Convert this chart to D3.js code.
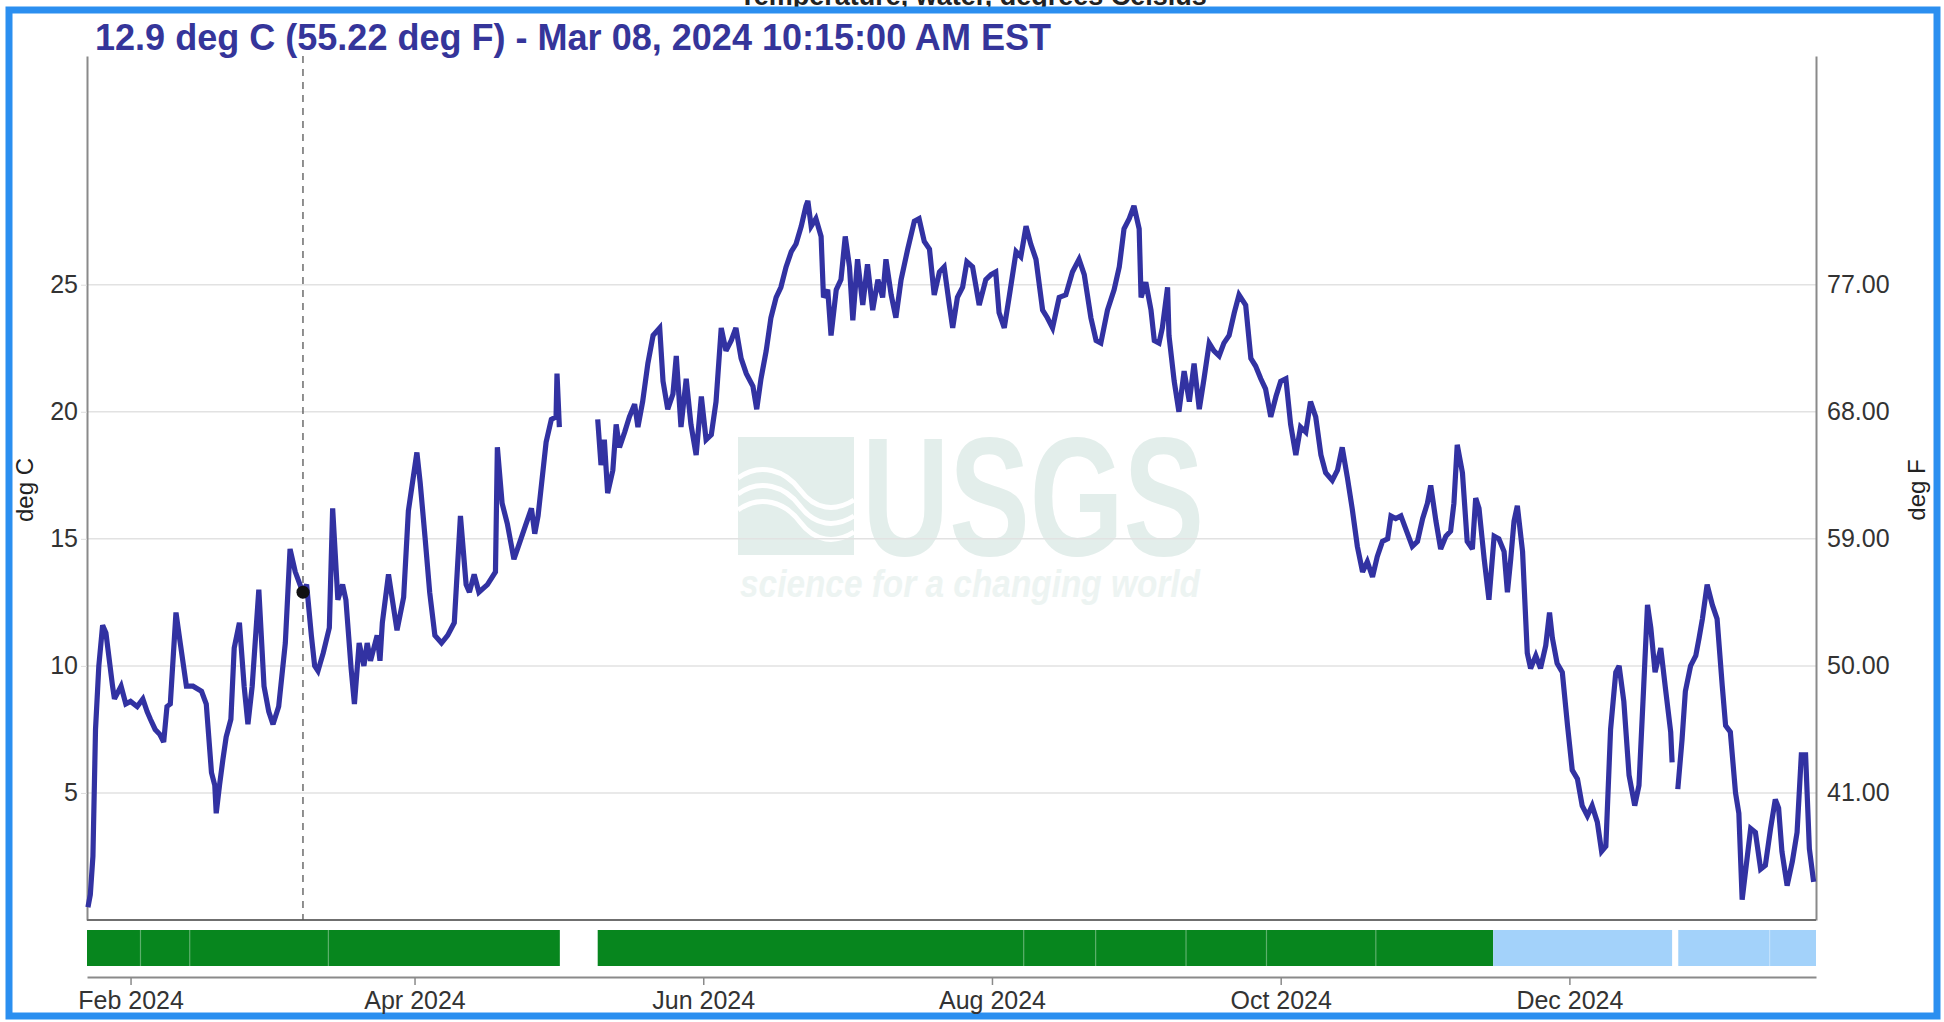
<!DOCTYPE html>
<html>
<head>
<meta charset="utf-8">
<script src="https://cdn.jsdelivr.net/npm/d3@7"></script>
<style>
  body { margin: 0; background: #fff; }
  svg { display: block; }
  text { font-family: "Liberation Sans", Arial, sans-serif; }
</style>
</head>
<body>
<svg width="1944" height="1022"></svg>
<script>
// day numbers are days of 2024 (Jan 1 = 1, values past 366 run into 2025)
const chartName = 'Temperature, water, degrees Celsius';
const title = '12.9 deg C (55.22 deg F) - Mar 08, 2024 10:15:00 AM EST';
const cursorPoint = [68.43, 12.9];
const xDomainDays = [22.8, 388.1];
const xTickDates = ['2024-02-01', '2024-04-01', '2024-06-01', '2024-08-01', '2024-10-01', '2024-12-01'];
const yTicksC = [5, 10, 15, 20, 25];
const yTicksF = [41, 50, 59, 68, 77];

// Jan 23 - May 1 2024
const springSeries = [
  [23.0, 0.5], [23.5, 1.0], [24.05, 2.5], [24.6, 7.5], [25.3, 10.0], [26.1, 11.6], [26.8, 11.3],
  [28.2, 9.2], [28.6, 8.7], [30.0, 9.2], [31.0, 8.5], [32.0, 8.6], [33.4, 8.4], [34.6, 8.7],
  [35.5, 8.2], [36.2, 7.9], [37.2, 7.5], [38.2, 7.3], [39.0, 7.0], [39.7, 8.4], [40.4, 8.5],
  [41.6, 12.1], [42.5, 10.9], [43.8, 9.2], [45.2, 9.2], [47.0, 9.0], [48.0, 8.5], [49.1, 5.8],
  [49.8, 5.3], [50.1, 4.2], [50.8, 5.3], [51.5, 6.3], [52.2, 7.2], [53.2, 7.9], [53.9, 10.7],
  [55.0, 11.7], [56.0, 9.2], [56.8, 7.7], [57.7, 9.2], [59.1, 13.0], [60.2, 9.2], [61.2, 8.2],
  [62.1, 7.7], [63.3, 8.4], [64.7, 10.9], [65.7, 14.6], [66.8, 13.7], [67.8, 13.2], [68.43, 12.9],
  [69.2, 13.2], [70.2, 11.2], [70.9, 10.0], [71.6, 9.8], [72.7, 10.5], [74.0, 11.5], [74.7, 16.2],
  [75.8, 12.6], [76.8, 13.2], [77.5, 12.6], [78.6, 9.9], [79.3, 8.5], [80.3, 10.9], [81.3, 10.0],
  [82.0, 10.9], [82.7, 10.2], [84.1, 11.2], [84.7, 10.2], [85.2, 11.7], [86.5, 13.6], [88.3, 11.4],
  [89.7, 12.7], [90.7, 16.1], [92.5, 18.4], [93.2, 17.2], [94.2, 15.1], [95.2, 12.9], [96.3, 11.2],
  [97.7, 10.9], [99.0, 11.2], [100.4, 11.7], [101.7, 15.9], [102.9, 13.2], [103.6, 12.9],
  [104.6, 13.6], [105.6, 12.9], [107.4, 13.2], [109.1, 13.7], [109.5, 18.6], [110.5, 16.4],
  [111.6, 15.6], [113.0, 14.2], [114.3, 14.9], [115.4, 15.5], [116.7, 16.2], [117.4, 15.2],
  [118.1, 15.9], [118.8, 17.1], [119.8, 18.8], [120.9, 19.7], [121.9, 19.8], [122.1, 21.5], [122.6, 19.4]
];

// May 10 - Dec 22 2024
const summerFallSeries = [
  [130.7, 19.7], [131.4, 17.9], [132.1, 18.9], [132.8, 16.8], [133.9, 17.7], [134.6, 19.5],
  [135.3, 18.6], [136.4, 19.2], [137.4, 19.8], [138.5, 20.3], [139.2, 19.4], [140.2, 20.4],
  [141.3, 21.9], [142.4, 23.0], [143.8, 23.3], [144.5, 21.2], [145.5, 20.1], [146.6, 20.7],
  [147.3, 22.2], [148.3, 19.4], [149.4, 21.3], [150.4, 19.5], [151.5, 18.3], [152.6, 20.6],
  [153.6, 18.9], [154.7, 19.1], [155.7, 20.4], [156.8, 23.3], [157.8, 22.4], [158.9, 22.8],
  [159.9, 23.3], [161.0, 22.1], [162.1, 21.5], [163.5, 21.0], [164.3, 20.1], [165.2, 21.3],
  [166.3, 22.4], [167.3, 23.7], [168.4, 24.5], [169.4, 24.9], [170.5, 25.7], [171.6, 26.3],
  [172.6, 26.6], [173.7, 27.3], [174.7, 28.1], [175.1, 28.3], [175.8, 27.3], [176.8, 27.6],
  [177.9, 26.9], [178.4, 24.5], [179.3, 24.8], [180.0, 23.0], [181.1, 24.8], [182.1, 25.2],
  [183.0, 26.9], [183.9, 25.7], [184.6, 23.6], [185.6, 26.0], [186.7, 24.2], [187.7, 25.8],
  [188.8, 24.0], [189.9, 25.2], [190.9, 24.5], [191.6, 26.0], [192.7, 24.6], [193.7, 23.7],
  [194.8, 25.2], [196.2, 26.4], [197.6, 27.5], [198.6, 27.6], [199.7, 26.7], [200.8, 26.4],
  [201.8, 24.6], [202.9, 25.5], [203.9, 25.7], [205.0, 24.2], [205.7, 23.3], [206.7, 24.5],
  [207.8, 24.9], [208.7, 25.9], [209.9, 25.7], [211.3, 24.2], [212.7, 25.2], [213.8, 25.4],
  [214.8, 25.5], [215.5, 23.9], [216.6, 23.3], [217.7, 24.6], [219.1, 26.3], [220.1, 26.1],
  [221.2, 27.3], [222.2, 26.6], [223.3, 26.0], [224.7, 24.0], [225.7, 23.7], [226.8, 23.3],
  [228.2, 24.5], [229.6, 24.6], [231.0, 25.5], [232.4, 26.0], [233.5, 25.4], [234.9, 23.7],
  [236.0, 22.8], [237.0, 22.7], [238.4, 24.0], [239.8, 24.8], [240.9, 25.7], [241.9, 27.2],
  [243.0, 27.6], [244.0, 28.1], [245.1, 27.2], [245.5, 24.5], [246.5, 25.1], [247.6, 24.0],
  [248.3, 22.8], [249.3, 22.7], [250.0, 23.3], [251.1, 24.9], [251.4, 23.0], [252.5, 21.2],
  [253.5, 20.0], [254.6, 21.6], [255.7, 20.4], [256.7, 21.9], [257.8, 20.1], [258.8, 21.3],
  [259.9, 22.7], [260.9, 22.4], [262.0, 22.2], [263.0, 22.7], [264.1, 23.0], [265.2, 23.9],
  [266.2, 24.6], [267.6, 24.2], [268.7, 22.1], [269.7, 21.8], [270.8, 21.3], [271.8, 20.9],
  [272.9, 19.8], [274.0, 20.6], [275.0, 21.2], [276.1, 21.3], [277.1, 19.5], [278.2, 18.3],
  [279.2, 19.4], [280.3, 19.2], [281.3, 20.4], [282.4, 19.8], [283.5, 18.3], [284.5, 17.6],
  [285.9, 17.3], [287.0, 17.7], [288.0, 18.6], [289.1, 17.4], [290.1, 16.2], [291.2, 14.7],
  [292.3, 13.7], [293.3, 14.1], [294.4, 13.5], [295.4, 14.3], [296.5, 14.9], [297.6, 15.0],
  [298.3, 15.9], [299.3, 15.8], [300.4, 15.9], [301.4, 15.4], [302.8, 14.7], [303.9, 14.9],
  [305.0, 15.8], [306.0, 16.4], [306.7, 17.1], [307.8, 15.7], [308.8, 14.6], [309.9, 15.1],
  [310.9, 15.3], [311.6, 16.4], [312.3, 18.7], [313.4, 17.6], [314.4, 14.9], [315.5, 14.6],
  [316.2, 16.6], [316.9, 16.2], [318.0, 14.2], [319.0, 12.6], [320.1, 15.1], [321.1, 15.0],
  [322.2, 14.5], [322.9, 12.9], [323.6, 14.2], [324.3, 15.7], [325.0, 16.3], [326.1, 14.5],
  [327.1, 10.5], [327.8, 9.9], [328.9, 10.4], [329.9, 9.9], [331.0, 10.8], [331.8, 12.1],
  [332.4, 11.1], [333.4, 10.1], [334.5, 9.75], [335.6, 7.65], [336.6, 5.9], [337.7, 5.55],
  [338.7, 4.5], [339.8, 4.1], [340.8, 4.5], [341.9, 3.85], [342.8, 2.7], [343.7, 2.9],
  [344.7, 7.5], [345.8, 9.75], [346.5, 10.0], [347.5, 8.6], [348.6, 5.7], [349.8, 4.5],
  [350.7, 5.3], [351.7, 9.2], [352.5, 12.4], [353.2, 11.5], [354.1, 9.75], [355.3, 10.7],
  [356.3, 9.1], [357.4, 7.4], [357.7, 6.2]
];

// Dec 23 2024 - Jan 22 2025
const winterSeries = [
  [358.9, 5.15], [359.8, 7.1], [360.5, 9.0], [361.6, 10.0], [362.7, 10.4], [363.4, 11.1],
  [364.1, 11.85], [365.1, 13.2], [366.2, 12.4], [367.2, 11.85], [368.3, 9.2], [369.0, 7.65],
  [370.0, 7.4], [371.1, 5.0], [371.8, 4.2], [372.5, 0.8], [373.2, 1.9], [374.3, 3.6],
  [375.3, 3.45], [376.4, 2.0], [377.4, 2.15], [378.5, 3.6], [379.5, 4.75], [380.2, 4.4],
  [380.9, 2.7], [382.0, 1.35], [383.1, 2.3], [384.1, 3.45], [385.0, 6.5], [385.9, 6.5],
  [386.7, 2.8], [387.6, 1.5]
];

// approval status bar: [from day, to day, status]
const statusSpans = [
  [22.8, 122.7, 'Approved'],
  [130.7, 319.9, 'Approved'],
  [319.9, 357.7, 'Provisional'],
  [359.0, 388.1, 'Provisional']
];
const statusBreaks = [34.1, 44.5, 73.8, 220.7, 235.9, 255.0, 272.0, 295.1, 378.3];

const dayToDate = d => new Date(Date.UTC(2024, 0, 1) + (d - 1) * 864e5);

const svg = d3.select('svg');
const margin = { left: 87, right: 1816, top: 56, bottom: 920 };

const x = d3.scaleUtc()
  .domain(xDomainDays.map(dayToDate))
  .range([margin.left, margin.right]);
const y = d3.scaleLinear().domain([0, 34]).range([margin.bottom, margin.top]);
const yF = d3.scaleLinear().domain([32, 32 + 34 * 1.8]).range([margin.bottom, margin.top]);

// chart name, mostly cut off by the frame
svg.append('text')
  .attr('x', 973).attr('y', 5)
  .attr('text-anchor', 'middle')
  .attr('font-size', 27).attr('font-weight', 'bold')
  .attr('fill', '#222')
  .text(chartName);

svg.append('rect')
  .attr('x', 9).attr('y', 10)
  .attr('width', 1928).attr('height', 1006)
  .attr('fill', '#fff')
  .attr('stroke', '#2b8ff0').attr('stroke-width', 7);

// USGS watermark
const wm = svg.append('g').attr('fill', '#e3eeeb');
wm.append('rect').attr('x', 738).attr('y', 437).attr('width', 116).attr('height', 118);
[[0, 0], [16, 10], [32, 20]].forEach(([dy, dx]) => {
  wm.append('path')
    .attr('d', `M738,${478 + dy} C760,${462 + dy} 785,${470 + dy} 800,${490 + dy} S835,${512 + dy} 854,${500 + dy}`)
    .attr('fill', 'none').attr('stroke', '#fff').attr('stroke-width', 5);
});
wm.append('text')
  .attr('x', 862).attr('y', 555)
  .attr('font-size', 168).attr('font-weight', 'bold')
  .attr('textLength', 342).attr('lengthAdjust', 'spacingAndGlyphs')
  .text('USGS');
wm.append('text')
  .attr('x', 740).attr('y', 597)
  .attr('font-size', 38).attr('font-style', 'italic').attr('font-weight', 'bold')
  .attr('fill', '#edf4f2')
  .attr('textLength', 460).attr('lengthAdjust', 'spacingAndGlyphs')
  .text('science for a changing world');

// gridlines
svg.append('g')
  .selectAll('line')
  .data(yTicksC)
  .join('line')
  .attr('x1', margin.left).attr('x2', margin.right)
  .attr('y1', d => y(d)).attr('y2', d => y(d))
  .attr('stroke', '#e2e2e2').attr('stroke-width', 1.5);

// axes
const leftAxis = svg.append('g')
  .attr('transform', `translate(${margin.left},0)`)
  .call(d3.axisLeft(y).tickValues(yTicksC).tickSize(6).tickSizeOuter(0).tickPadding(3));
const rightAxis = svg.append('g')
  .attr('transform', `translate(${margin.right},0)`)
  .call(d3.axisRight(yF).tickValues(yTicksF).tickFormat(d3.format('.2f')).tickSize(0).tickSizeOuter(0).tickPadding(11));
[leftAxis, rightAxis].forEach(g => {
  g.select('.domain').attr('stroke', '#8a8a8a').attr('stroke-width', 2);
  g.selectAll('.tick line').attr('stroke', '#ddd');
  g.selectAll('text').attr('font-size', 25).attr('fill', '#333').attr('font-family', '"Liberation Sans", Arial, sans-serif');
});

svg.append('line')
  .attr('x1', margin.left).attr('x2', margin.right)
  .attr('y1', margin.bottom).attr('y2', margin.bottom)
  .attr('stroke', '#6f6f6f').attr('stroke-width', 2);

svg.append('text')
  .attr('transform', `translate(33,490) rotate(-90)`)
  .attr('text-anchor', 'middle')
  .attr('font-size', 24).attr('fill', '#222')
  .text('deg C');
svg.append('text')
  .attr('transform', `translate(1925,490) rotate(-90)`)
  .attr('text-anchor', 'middle')
  .attr('font-size', 24).attr('fill', '#222')
  .text('deg F');

// status bar
const statusColor = { Approved: '#07861e', Provisional: '#a3d2fa' };
svg.append('g')
  .selectAll('rect')
  .data(statusSpans)
  .join('rect')
  .attr('x', d => x(dayToDate(d[0])))
  .attr('width', d => x(dayToDate(d[1])) - x(dayToDate(d[0])))
  .attr('y', 930).attr('height', 36)
  .attr('fill', d => statusColor[d[2]]);
svg.append('g')
  .selectAll('line')
  .data(statusBreaks)
  .join('line')
  .attr('x1', d => x(dayToDate(d))).attr('x2', d => x(dayToDate(d)))
  .attr('y1', 930).attr('y2', 966)
  .attr('stroke', 'rgba(255,255,255,0.35)').attr('stroke-width', 1.2);

const xAxis = svg.append('g')
  .attr('transform', 'translate(0,977)')
  .call(d3.axisBottom(x)
    .tickValues(xTickDates.map(d3.utcParse('%Y-%m-%d')))
    .tickFormat(d3.utcFormat('%b %Y'))
    .tickSize(8).tickSizeOuter(0).tickPadding(6));
xAxis.select('.domain').attr('stroke', '#8a8a8a').attr('stroke-width', 2);
xAxis.selectAll('.tick line').attr('stroke', '#8a8a8a').attr('stroke-width', 1.5);
xAxis.selectAll('text').attr('font-size', 25).attr('fill', '#333').attr('font-family', '"Liberation Sans", Arial, sans-serif');

// cursor
const cx = x(dayToDate(cursorPoint[0]));
svg.append('line')
  .attr('x1', cx).attr('x2', cx)
  .attr('y1', margin.top).attr('y2', margin.bottom)
  .attr('stroke', '#555').attr('stroke-width', 1.3)
  .attr('stroke-dasharray', '7,6');

// temperature line
const line = d3.line()
  .x(d => x(dayToDate(d[0])))
  .y(d => y(d[1]));
svg.append('g')
  .selectAll('path')
  .data([springSeries, summerFallSeries, winterSeries])
  .join('path')
  .attr('d', line)
  .attr('fill', 'none')
  .attr('stroke', '#3232a2')
  .attr('stroke-width', 5.2)
  .attr('stroke-linejoin', 'miter')
  .attr('stroke-miterlimit', 3);

svg.append('circle')
  .attr('cx', cx).attr('cy', y(cursorPoint[1]))
  .attr('r', 6.5).attr('fill', '#111');

svg.append('text')
  .attr('x', 95).attr('y', 50)
  .attr('font-family', '"Noto Sans", "Open Sans", sans-serif')
  .attr('font-size', 36).attr('font-weight', 'bold')
  .attr('fill', '#35359a')
  .attr('textLength', 956).attr('lengthAdjust', 'spacingAndGlyphs')
  .text(title);
</script>
</body>
</html>
